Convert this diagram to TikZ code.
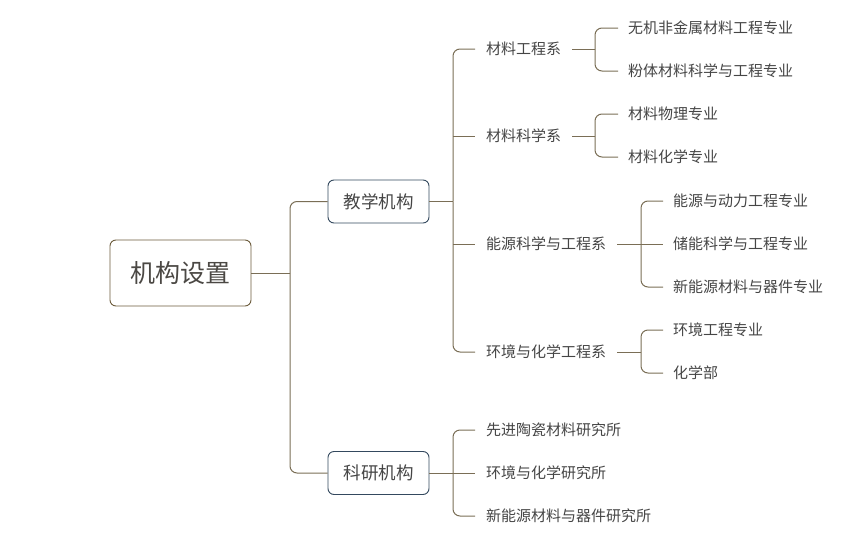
\documentclass[tikz,border=0pt]{standalone}
\usepackage{fontspec}
\setmainfont{Noto Sans CJK SC}
\definecolor{linkcol}{HTML}{7A6E56}
\definecolor{rootcol}{HTML}{6B5B3B}
\definecolor{unitcol}{HTML}{34495E}
\definecolor{textcol}{HTML}{454545}
\tikzset{
  rootbox/.style={draw=rootcol, line width=0.9pt, rounded corners=6pt, text=textcol!85!rootcol,
    font=\fontsize{25}{29}\selectfont, minimum width=141pt, minimum height=66pt},
  unitbox/.style={draw=unitcol, line width=0.9pt, rounded corners=6pt, text=textcol,
    font=\fontsize{17.5}{21}\selectfont, minimum width=101pt, minimum height=43pt},
  deptlabel/.style={anchor=west, text=textcol, font=\fontsize{15}{18}\selectfont,
    inner xsep=11pt, inner ysep=2pt},
  leaflabel/.style={deptlabel, inner xsep=10pt},
  link/.style={draw=linkcol, line width=1pt},
  elbow/.style={link, rounded corners=7pt},
}
\begin{document}
\begin{tikzpicture}[x=1pt, y=-1pt]
  \useasboundingbox (0,0) rectangle (862,546);
  % root and the two units
  \node[rootbox] (root) at (180.5,273) {机构设置};
  \node[unitbox] (teach) at (378.5,201.5) {教学机构};
  \node[unitbox] (resrch) at (378.5,473) {科研机构};
  \coordinate (j1) at (290,273);
  \draw[link] (root.east) -- (j1);
  \draw[elbow] (j1) |- (teach.west);
  \draw[elbow] (j1) |- (resrch.west);
  % departments
  \node[deptlabel] (d1) at (475,49) {材料工程系};
  \node[deptlabel] (d2) at (475,136) {材料科学系};
  \node[deptlabel] (d3) at (475,244) {能源科学与工程系};
  \node[deptlabel] (d4) at (475,352) {环境与化学工程系};
  \coordinate (j2) at (453,201.5);
  \draw[link] (teach.east) -- (j2);
  \draw[elbow] (j2) |- (d1.west);
  \draw[link] (j2 |- d2.west) -- (d2.west);
  \draw[link] (j2 |- d3.west) -- (d3.west);
  \draw[elbow] (j2) |- (d4.west);
  % majors
  \node[leaflabel] (m11) at (618,28) {无机非金属材料工程专业};
  \node[leaflabel] (m12) at (618,71) {粉体材料科学与工程专业};
  \node[leaflabel] (m21) at (618,114) {材料物理专业};
  \node[leaflabel] (m22) at (618,157) {材料化学专业};
  \node[leaflabel] (m31) at (663,201) {能源与动力工程专业};
  \node[leaflabel] (m32) at (663,244) {储能科学与工程专业};
  \node[leaflabel] (m33) at (663,287) {新能源材料与器件专业};
  \node[leaflabel] (m41) at (663,330) {环境工程专业};
  \node[leaflabel] (m42) at (663,373) {化学部};
  \coordinate (b1) at (595,49);
  \coordinate (b2) at (595,136);
  \coordinate (b3) at (641,244);
  \coordinate (b4) at (641,352);
  \draw[link] (d1.east) -- (b1);
  \draw[elbow] (b1) |- (m11.west);
  \draw[elbow] (b1) |- (m12.west);
  \draw[link] (d2.east) -- (b2);
  \draw[elbow] (b2) |- (m21.west);
  \draw[elbow] (b2) |- (m22.west);
  \draw[link] (d3.east) -- (b3);
  \draw[elbow] (b3) |- (m31.west);
  \draw[link] (b3) -- (m32.west);
  \draw[elbow] (b3) |- (m33.west);
  \draw[link] (d4.east) -- (b4);
  \draw[elbow] (b4) |- (m41.west);
  \draw[elbow] (b4) |- (m42.west);
  % institutes
  \node[deptlabel] (r1) at (475,430) {先进陶瓷材料研究所};
  \node[deptlabel] (r2) at (475,473) {环境与化学研究所};
  \node[deptlabel] (r3) at (475,516) {新能源材料与器件研究所};
  \coordinate (j3) at (453,473);
  \draw[link] (resrch.east) -- (j3);
  \draw[elbow] (j3) |- (r1.west);
  \draw[link] (j3) -- (r2.west);
  \draw[elbow] (j3) |- (r3.west);
\end{tikzpicture}
\end{document}
